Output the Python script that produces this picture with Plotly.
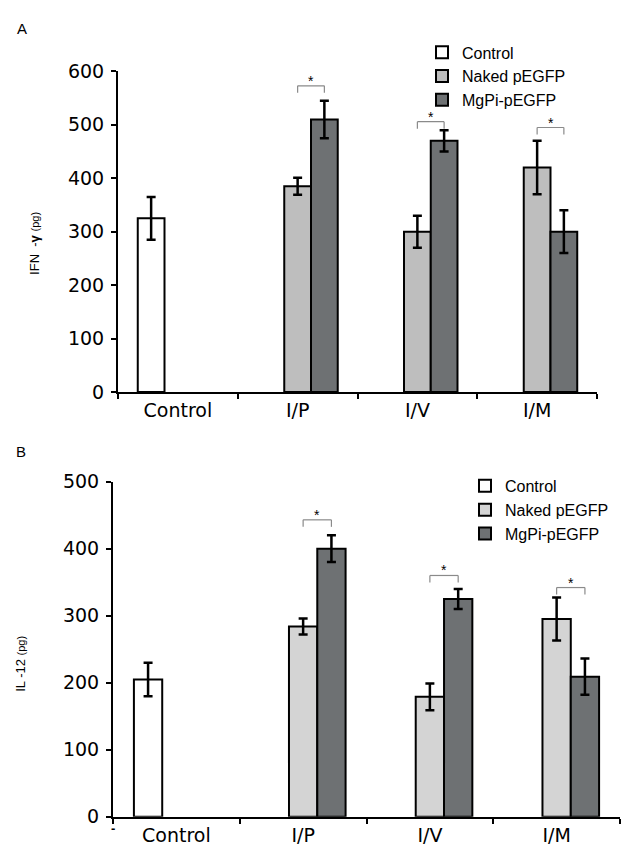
import plotly.graph_objects as go

# ---------------- data ----------------
categories = ["Control", "I/P", "I/V", "I/M"]
series_names = ["Control", "Naked pEGFP", "MgPi-pEGFP"]

ifn_control = [325, None, None, None]
ifn_control_err = [40, 0, 0, 0]
ifn_naked = [None, 385, 300, 420]
ifn_naked_err = [0, 16, 30, 50]
ifn_mgpi = [None, 510, 470, 300]
ifn_mgpi_err = [0, 35, 20, 40]

il12_control = [205, None, None, None]
il12_control_err = [25, 0, 0, 0]
il12_naked = [None, 284, 179, 295]
il12_naked_err = [0, 12, 20, 32]
il12_mgpi = [None, 400, 325, 209]
il12_mgpi_err = [0, 20, 15, 27]

sig_groups = ["I/P", "I/V", "I/M"]
ifn_sig_level = [573, 506, 495]
il12_sig_level = [443, 360, 342]

ifn_ticks = [0, 100, 200, 300, 400, 500, 600]
il12_ticks = [0, 100, 200, 300, 400, 500]

# ---------------- style ----------------
W, H = 622, 859
BARGAP = 0.33
BW = (1 - BARGAP) / 3
col_control = "#FFFFFF"
col_naked_top = "#BEBEBE"
col_naked_bot = "#D4D4D4"
col_mgpi = "#6E7173"
tick_font = dict(family="DejaVu Sans", size=19, color="black")
leg_font = dict(family="Liberation Sans", size=16, color="black")


def px_x(p):
    return p / W


def px_y(p):
    return 1 - p / H


fig = go.Figure()


def add_panel(vals, errs, naked_col, xa, ya, legend):
    cols = [col_control, naked_col, col_mgpi]
    for name, v, e, c in zip(series_names, vals, errs, cols):
        fig.add_trace(go.Bar(
            x=categories, y=v, name=name,
            marker=dict(color=c, line=dict(color="black", width=2)),
            error_y=dict(type="data", array=e, visible=True, color="black",
                         thickness=2.5, width=4.5),
            xaxis=xa, yaxis=ya, legend=legend,
        ))


add_panel([ifn_control, ifn_naked, ifn_mgpi],
          [ifn_control_err, ifn_naked_err, ifn_mgpi_err],
          col_naked_top, "x", "y", "legend")
add_panel([il12_control, il12_naked, il12_mgpi],
          [il12_control_err, il12_naked_err, il12_mgpi_err],
          col_naked_bot, "x2", "y2", "legend2")

# significance brackets
shapes = []
annotations = []
for levels, xr, yr in [(ifn_sig_level, "x", "y"), (il12_sig_level, "x2", "y2")]:
    for g, lv in zip(sig_groups, levels):
        i = categories.index(g)
        xa, xb = i, i + BW
        common = dict(type="line", xref=xr, yref=yr, ysizemode="pixel",
                      yanchor=lv, line=dict(color="#8a8a8a", width=1.2))
        shapes.append(dict(common, x0=xa, x1=xb, y0=0, y1=0))
        shapes.append(dict(common, x0=xa, x1=xa, y0=0, y1=-7))
        shapes.append(dict(common, x0=xb, x1=xb, y0=0, y1=-7))
        annotations.append(dict(x=(xa + xb) / 2, y=lv, xref=xr, yref=yr,
                                text="*", showarrow=False, yshift=5,
                                xanchor="center", yanchor="middle",
                                font=dict(family="Liberation Sans", size=14,
                                          color="black")))


def label(x, y, text, size, angle=0):
    return dict(x=px_x(x), y=px_y(y), xref="paper", yref="paper", text=text,
                showarrow=False, xanchor="center", yanchor="middle",
                textangle=angle,
                font=dict(family="Liberation Sans", size=size, color="black"))


annotations += [
    label(22, 18, "A", 15),
    label(21, 452, "B", 15),
    label(35, 239, "IFN  -<b>γ</b> <span style='font-size:11px'>(pg)</span>", 13, -90),
    label(21, 670, "IL -12 <span style='font-size:11px'>(pg)</span>", 13, -90),
    label(113, 839, "<b>-</b>", 13),
]

xaxis_common = dict(type="category", categoryorder="array", categoryarray=categories,
                    range=[-0.5, 3.5], showline=True, linecolor="black", linewidth=2,
                    ticks="outside", tickson="boundaries", ticklen=5, tickwidth=2,
                    tickcolor="black", tickfont=tick_font, showgrid=False,
                    zeroline=False, fixedrange=True)
yaxis_common = dict(showline=True, linecolor="black", linewidth=2, ticks="outside",
                    ticklen=5, tickwidth=2, tickcolor="black", tickfont=tick_font,
                    ticklabelstandoff=3,
                    showgrid=False, zeroline=False, fixedrange=True)

fig.update_layout(
    width=W, height=H, margin=dict(l=0, r=0, t=0, b=0),
    paper_bgcolor="white", plot_bgcolor="white",
    barmode="group", bargap=BARGAP, bargroupgap=0,
    showlegend=True,
    xaxis=dict(xaxis_common, domain=[px_x(118), px_x(597)], anchor="y"),
    yaxis=dict(yaxis_common, domain=[px_y(391), px_y(62)], anchor="x",
               range=[0, 600], tickvals=ifn_ticks),
    xaxis2=dict(xaxis_common, domain=[px_x(113), px_x(620)], anchor="y2"),
    yaxis2=dict(yaxis_common, domain=[px_y(827), px_y(483)], anchor="x2",
                range=[0, 500], tickvals=il12_ticks),
    legend=dict(x=px_x(422), xanchor="left", y=px_y(25), yanchor="top",
                font=leg_font, bgcolor="rgba(0,0,0,0)", tracegroupgap=0),
    legend2=dict(x=px_x(465), xanchor="left", y=px_y(470), yanchor="top",
                 font=leg_font, bgcolor="rgba(0,0,0,0)", tracegroupgap=0),
    shapes=shapes, annotations=annotations,
)

fig.write_html("out.html", config={"displayModeBar": False},
               post_script="document.body.style.margin='0px';")
